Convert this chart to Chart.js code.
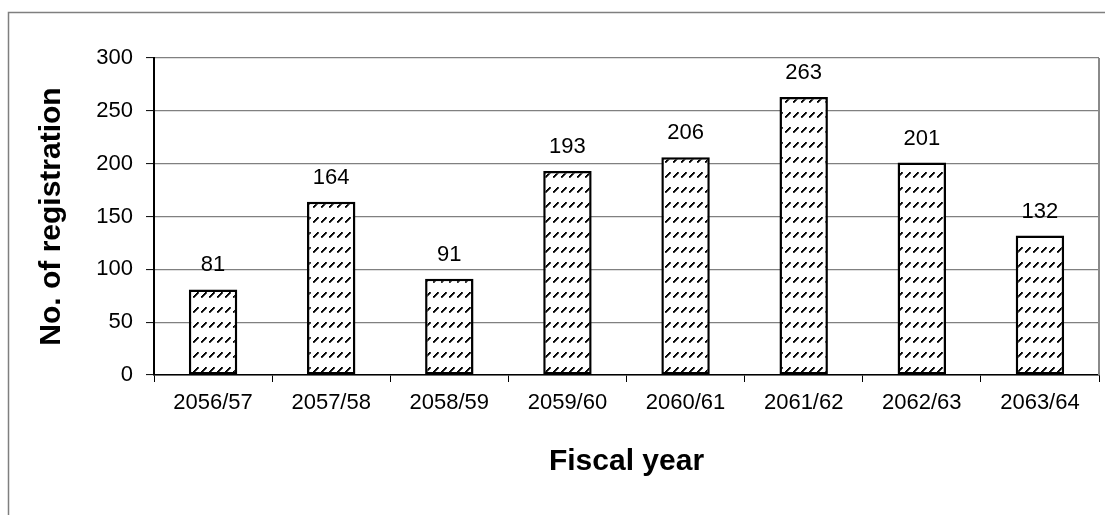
<!DOCTYPE html>
<html>
<head>
<meta charset="utf-8">
<script src="https://cdn.jsdelivr.net/npm/chart.js@4/dist/chart.umd.min.js"></script>
<style>
  html, body { margin: 0; padding: 0; background: #fff; }
  #wrap { width: 1105px; height: 515px; position: relative; }
</style>
</head>
<body>
<div id="wrap"><canvas id="myChart"></canvas></div>
<script>
var fiscalYears = ['2056/57', '2057/58', '2058/59', '2059/60', '2060/61', '2061/62', '2062/63', '2063/64'];
var registrations = [81, 164, 91, 193, 206, 263, 201, 132];
var yTicks = [0, 50, 100, 150, 200, 250, 300];

var FONT = '"Liberation Sans", Arial, sans-serif';

// dashed upward diagonal hatch like the excel fill
function makeHatch() {
    var c = document.createElement('canvas');
    c.width = 8;
    c.height = 15;
    var g = c.getContext('2d');
    g.fillStyle = '#fff';
    g.fillRect(0, 0, 8, 15);
    g.fillStyle = '#000';
    for (var i = 0; i < 5; i++) {
        g.fillRect(1 + i, 11 - i, 1.8, 1.8);
    }
    return g.createPattern(c, 'repeat');
}

var framePlugin = {
    id: 'frame',
    beforeDraw: function (chart) {
        var ctx = chart.ctx;
        ctx.save();
        ctx.fillStyle = '#fff';
        ctx.fillRect(0, 0, chart.width, chart.height);
        ctx.strokeStyle = '#7f7f7f';
        ctx.lineWidth = 1.5;
        ctx.strokeRect(8.5, 12.5, 1300, 700);
        ctx.restore();
    },
    afterDraw: function (chart) {
        var a = chart.chartArea;
        var ctx = chart.ctx;
        ctx.save();
        ctx.strokeStyle = '#8a8a8a';
        ctx.lineWidth = 2;
        ctx.beginPath();
        ctx.moveTo(a.right, a.top);
        ctx.lineTo(a.right, a.bottom);
        ctx.stroke();
        ctx.restore();
    }
};

var valueLabels = {
    id: 'valueLabels',
    afterDatasetsDraw: function (chart) {
        var ctx = chart.ctx;
        var meta = chart.getDatasetMeta(0);
        ctx.save();
        ctx.font = '22px ' + FONT;
        ctx.fillStyle = '#000';
        ctx.textAlign = 'center';
        ctx.textBaseline = 'middle';
        meta.data.forEach(function (bar, i) {
            ctx.fillText(registrations[i], bar.x, bar.y - 24);
        });
        ctx.restore();
    }
};

var ctx = document.getElementById('myChart');
var myBarChart = new Chart(ctx, {
    type: 'bar',
    data: {
        labels: fiscalYears,
        datasets: [{
            label: 'No. of registration',
            data: registrations,
            backgroundColor: makeHatch(),
            borderColor: '#000',
            borderWidth: 2.5,
            borderSkipped: false,
            categoryPercentage: 1,
            barPercentage: 0.41
        }]
    },
    options: {
        responsive: true,
        maintainAspectRatio: false,
        animation: false,
        layout: { padding: { left: 0, right: 6, top: 58, bottom: 0 } },
        plugins: {
            legend: { display: false },
            tooltip: { enabled: false }
        },
        scales: {
            x: {
                grid: {
                    offset: true,
                    drawOnChartArea: false,
                    drawTicks: true,
                    tickLength: 7,
                    tickColor: '#000',
                    tickWidth: 1
                },
                border: { color: '#000', width: 1.5 },
                ticks: {
                    color: '#000',
                    font: { family: FONT, size: 22 },
                    padding: 8,
                    maxRotation: 0,
                    autoSkip: false
                },
                title: {
                    display: true,
                    text: 'Fiscal year',
                    color: '#000',
                    font: { family: FONT, size: 30, weight: 'bold' },
                    padding: { top: 0, bottom: 35 }
                },
                afterFit: function (scale) { scale.height = 140; }
            },
            y: {
                min: 0,
                max: 300,
                afterBuildTicks: function (scale) {
                    scale.ticks = yTicks.map(function (v) { return { value: v }; });
                },
                grid: {
                    color: '#808080',
                    lineWidth: 1.2,
                    tickLength: 8,
                    tickColor: '#000',
                    tickWidth: 1
                },
                border: { color: '#000', width: 2 },
                ticks: {
                    color: '#000',
                    font: { family: FONT, size: 22 },
                    padding: 13
                },
                title: {
                    display: true,
                    text: 'No. of registration',
                    color: '#000',
                    font: { family: FONT, size: 30, weight: 'bold' },
                    padding: { top: 34, bottom: 0 }
                },
                afterFit: function (scale) { scale.width = 154; }
            }
        }
    },
    plugins: [framePlugin, valueLabels]
});
</script>
</body>
</html>
